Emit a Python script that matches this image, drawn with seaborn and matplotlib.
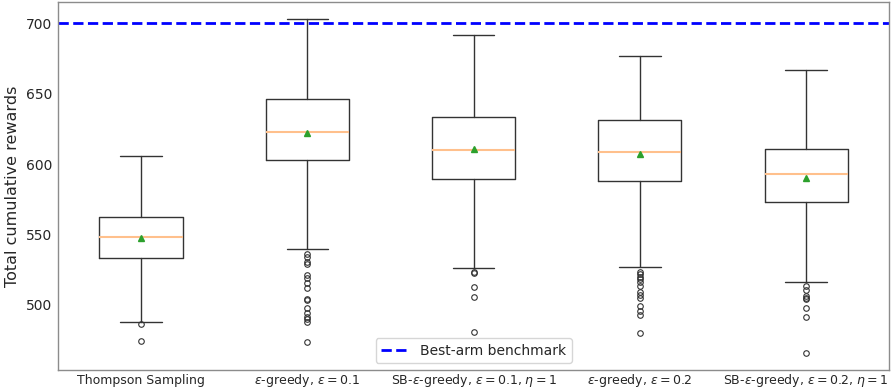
import matplotlib
matplotlib.use("Agg")
import matplotlib.pyplot as plt
import seaborn as sns

sns.set_theme(style="white")
plt.rcParams["font.family"] = ["DejaVu Sans"]
plt.rcParams["mathtext.fontset"] = "dejavusans"

# Policies compared
labels = [
    "Thompson Sampling",
    r"$\epsilon$-greedy, $\epsilon = 0.1$",
    r"SB-$\epsilon$-greedy, $\epsilon = 0.1$, $\eta = 1$",
    r"$\epsilon$-greedy, $\epsilon = 0.2$",
    r"SB-$\epsilon$-greedy, $\epsilon = 0.2$, $\eta = 1$",
]

# Summary statistics of total cumulative rewards per policy
whisker_low = [487.6, 539.8, 526.1, 526.8, 516.2]
q1 = [533.2, 602.9, 589.7, 588.0, 572.7]
median = [548.0, 622.8, 609.8, 608.2, 593.0]
q3 = [562.5, 646.2, 633.2, 630.9, 611.0]
whisker_high = [606.0, 702.9, 691.3, 677.0, 667.0]
mean = [547.6, 622.3, 611.0, 607.4, 590.1]

outliers_ts = [486.6, 474.5]
outliers_eg01 = [536.5, 534.1, 530.6, 529.4, 520.9, 518.8, 515.7, 512.1,
                 504.3, 503.4, 497.5, 494.0, 491.6, 489.7, 488.0, 473.8]
outliers_sb01 = [523.5, 522.8, 512.4, 505.5, 480.5]
outliers_eg02 = [523.5, 521.8, 519.9, 518.1, 516.4, 513.3, 509.1, 507.0,
                 505.0, 499.1, 495.8, 492.5, 479.8]
outliers_sb02 = [513.1, 510.5, 506.3, 505.1, 504.0, 497.5, 491.6, 465.6]
outliers = [outliers_ts, outliers_eg01, outliers_sb01, outliers_eg02, outliers_sb02]

benchmark = 700

stats = []
for i, lab in enumerate(labels):
    stats.append({
        "label": lab,
        "whislo": whisker_low[i],
        "q1": q1[i],
        "med": median[i],
        "q3": q3[i],
        "whishi": whisker_high[i],
        "mean": mean[i],
        "fliers": outliers[i],
    })

fig = plt.figure(figsize=(8.91, 3.90), dpi=100)
ax = fig.add_axes([0.065, 0.051, 0.933, 0.943])

line_col = "0.2"
ax.bxp(
    stats,
    showmeans=True,
    widths=0.5,
    boxprops=dict(color=line_col, linewidth=1.0),
    whiskerprops=dict(color=line_col, linewidth=1.0),
    capprops=dict(color=line_col, linewidth=1.0),
    medianprops=dict(color="#ffc08c", linewidth=1.5),
    meanprops=dict(marker="^", markerfacecolor="#2ca02c", markeredgecolor="#2ca02c", markersize=5),
    flierprops=dict(marker="o", markerfacecolor="none", markeredgecolor="0.2",
                    markersize=4, markeredgewidth=0.8),
)

ax.axhline(benchmark, color="blue", linestyle="--", linewidth=2, label="Best-arm benchmark")

ax.set_ylabel("Total cumulative rewards", fontsize=11.5, labelpad=4)
ax.set_yticks([500, 550, 600, 650, 700])
ax.tick_params(axis="y", labelsize=10, length=0, pad=4)
ax.tick_params(axis="x", labelsize=9, length=3, width=0.6, color="0.5", pad=7)
for lbl in ax.get_xticklabels():
    lbl.set_verticalalignment("baseline")
for s in ax.spines.values():
    s.set_color("0.55")
    s.set_linewidth(1.0)

ax.legend(loc="lower center", fontsize=10, frameon=True, borderaxespad=0.5)

fig.savefig("out.png", dpi=100)
